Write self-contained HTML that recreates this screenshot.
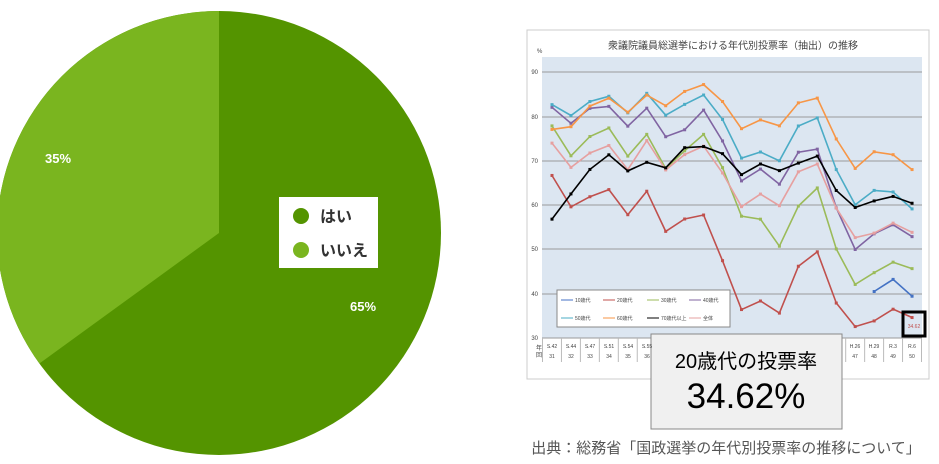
<!DOCTYPE html>
<html><head><meta charset="utf-8"><style>
body{margin:0;width:939px;height:464px;background:#fff;overflow:hidden;position:relative;font-family:"Liberation Sans","Noto Sans CJK JP",sans-serif}
</style></head><body>
<svg width="939" height="464" style="position:absolute;left:0;top:0">
<circle cx="219" cy="233" r="222" fill="#549400"/>
<path d="M219,233 L39.4,363.5 A222,222 0 0 1 219,11 Z" fill="#7ab51f"/>
<text x="45" y="163" font-size="13" font-weight="bold" fill="#fff" font-family="Liberation Sans,sans-serif">35%</text>
<text x="350" y="311" font-size="13" font-weight="bold" fill="#fff" font-family="Liberation Sans,sans-serif">65%</text>
<rect x="279" y="197" width="99" height="71" fill="#fff"/>
<circle cx="301" cy="216" r="8" fill="#549400"/>
<circle cx="301" cy="250" r="8" fill="#7ab51f"/>
<text x="320" y="222" font-size="16" font-weight="bold" fill="#333" font-family="Liberation Sans,Noto Sans CJK JP,sans-serif">はい</text>
<text x="320" y="256" font-size="16" font-weight="bold" fill="#333" font-family="Liberation Sans,Noto Sans CJK JP,sans-serif">いいえ</text>

<rect x="527" y="30" width="402" height="349" fill="#fff" stroke="#ccc"/>
<text x="733" y="49" font-size="10" text-anchor="middle" fill="#444" font-family="Liberation Sans,Noto Sans CJK JP,sans-serif">衆議院議員総選挙における年代別投票率（抽出）の推移</text>
<text x="537" y="53" font-size="6" fill="#444">%</text>
<rect x="542" y="57" width="380" height="281" fill="#dce6f1"/>
<g stroke="#9a9a9a" stroke-width="1">
<line x1="542" x2="922" y1="72" y2="72"/><line x1="542" x2="922" y1="117" y2="117"/><line x1="542" x2="922" y1="161" y2="161"/><line x1="542" x2="922" y1="205" y2="205"/><line x1="542" x2="922" y1="249" y2="249"/><line x1="542" x2="922" y1="294" y2="294"/><line x1="542" x2="922" y1="338" y2="338"/>
</g>
<g font-size="6" fill="#444" text-anchor="end">
<text x="538" y="74">90</text><text x="538" y="119">80</text><text x="538" y="163">70</text><text x="538" y="207">60</text><text x="538" y="251">50</text><text x="538" y="296">40</text><text x="538" y="340">30</text>
</g>
<g id="cats" font-size="5" fill="#444" text-anchor="middle"></g>
<text x="536" y="350" font-size="6" fill="#444">年</text><text x="536" y="357" font-size="6" fill="#444">回</text>
<g id="lines"></g>
<rect x="557" y="290" width="173" height="37" fill="#fff" stroke="#888"/>
<g font-size="5" fill="#444" font-family="Liberation Sans,Noto Sans CJK JP,sans-serif">
<line x1="561" x2="573" y1="300" y2="300" stroke="#4472c4"/><text x="575" y="302">10歳代</text>
<line x1="603" x2="615" y1="300" y2="300" stroke="#c0504d"/><text x="617" y="302">20歳代</text>
<line x1="647" x2="659" y1="300" y2="300" stroke="#9bbb59"/><text x="661" y="302">30歳代</text>
<line x1="689" x2="701" y1="300" y2="300" stroke="#8064a2"/><text x="703" y="302">40歳代</text>
<line x1="561" x2="573" y1="318" y2="318" stroke="#4bacc6"/><text x="575" y="320">50歳代</text>
<line x1="603" x2="615" y1="318" y2="318" stroke="#f79646"/><text x="617" y="320">60歳代</text>
<line x1="647" x2="659" y1="318" y2="318" stroke="#000"/><text x="661" y="320">70歳代以上</text>
<line x1="689" x2="701" y1="318" y2="318" stroke="#e6a0a0"/><text x="703" y="320">全体</text>
</g>
<rect x="903" y="312" width="22" height="24" fill="none" stroke="#000" stroke-width="3"/>
<text x="914" y="328" font-size="5" fill="#c0504d" text-anchor="middle">34.62</text>

<rect x="651" y="334" width="191" height="95" fill="#f0f0f0" stroke="#888"/>
<text x="746" y="368" font-size="20" text-anchor="middle" fill="#000" font-family="Liberation Sans,Noto Sans CJK JP,sans-serif">20歳代の投票率</text>
<text x="746" y="408" font-size="35" text-anchor="middle" fill="#000" font-family="Liberation Sans,sans-serif">34.62%</text>
<text x="726" y="453" font-size="15" text-anchor="middle" fill="#555" font-family="Liberation Sans,Noto Sans CJK JP,sans-serif">出典：総務省「国政選挙の年代別投票率の推移について」</text>
</svg>
<script>
var ns="http://www.w3.org/2000/svg";
var D=[
["#c0504d",[66.69,59.61,61.89,63.50,57.83,63.13,54.07,56.86,57.76,47.46,36.42,38.35,35.62,46.20,49.45,37.89,32.58,33.85,36.50,34.62]],
["#9bbb59",[77.88,71.13,75.48,77.41,71.06,75.97,68.27,72.25,75.97,68.46,57.49,56.82,50.72,59.79,63.87,50.10,42.09,44.75,47.12,45.66]],
["#8064a2",[82.07,78.47,81.84,82.29,77.82,81.88,75.43,77.00,81.44,74.48,65.46,68.13,64.72,71.94,72.63,59.38,49.98,53.52,55.56,52.88]],
["#e6a0a0",[73.99,68.51,71.76,73.45,68.01,74.57,67.94,71.40,73.31,67.26,59.65,62.49,59.86,67.51,69.28,59.32,52.66,53.68,55.93,53.85]],
["#4bacc6",[82.68,80.23,83.38,84.57,80.82,85.23,80.29,82.74,84.85,79.34,70.61,71.98,70.01,77.86,79.69,68.02,60.07,63.32,62.96,59.14]],
["#f79646",[77.08,77.70,82.34,84.13,80.97,84.84,82.43,85.66,87.21,83.38,77.25,79.23,77.89,83.08,84.15,74.93,68.28,72.04,71.38,68.02]],
["#000000",[56.83,62.52,68.05,71.35,67.72,69.66,68.41,72.96,73.21,71.61,66.88,69.28,67.78,69.48,71.06,63.30,59.46,60.94,61.96,60.42]],
["#4472c4",[null,null,null,null,null,null,null,null,null,null,null,null,null,null,null,null,null,40.49,43.23,39.43]]
];
function X(i){return 552+i*18.95}function Y(v){return 338-(v-30)*4.43}
var g=document.getElementById("lines");
D.forEach(function(s){var p=[];s[1].forEach(function(v,i){if(v!==null)p.push(X(i).toFixed(1)+","+Y(v).toFixed(1))});
var pl=document.createElementNS(ns,"polyline");pl.setAttribute("points",p.join(" "));pl.setAttribute("fill","none");pl.setAttribute("stroke",s[0]);pl.setAttribute("stroke-width","1.6");g.appendChild(pl);
s[1].forEach(function(v,i){if(v===null)return;var r=document.createElementNS(ns,"rect");r.setAttribute("x",X(i)-1.5);r.setAttribute("y",Y(v)-1.5);r.setAttribute("width",3);r.setAttribute("height",3);r.setAttribute("fill",s[0]);g.appendChild(r);});});
var c=document.getElementById("cats");
for(var i=0;i<=20;i++){var l=document.createElementNS(ns,"line");var x=542.5+i*18.95;l.setAttribute("x1",x);l.setAttribute("x2",x);l.setAttribute("y1",338);l.setAttribute("y2",362);l.setAttribute("stroke","#bbb");c.appendChild(l);}
</script>
<svg width="939" height="464" style="position:absolute;left:0;top:0;pointer-events:none">
<g font-size="5" fill="#444" text-anchor="middle" font-family="Liberation Sans,sans-serif">
<text x="552" y="348">S.42</text><text x="552" y="358">31</text>
<text x="571" y="348">S.44</text><text x="571" y="358">32</text>
<text x="590" y="348">S.47</text><text x="590" y="358">33</text>
<text x="609" y="348">S.51</text><text x="609" y="358">34</text>
<text x="628" y="348">S.54</text><text x="628" y="358">35</text>
<text x="647" y="348">S.55</text><text x="647" y="358">36</text>
<text x="855" y="348">H.26</text><text x="855" y="358">47</text>
<text x="874" y="348">H.29</text><text x="874" y="358">48</text>
<text x="893" y="348">R.3</text><text x="893" y="358">49</text>
<text x="912" y="348">R.6</text><text x="912" y="358">50</text>
</g>
</svg>
</body></html>
